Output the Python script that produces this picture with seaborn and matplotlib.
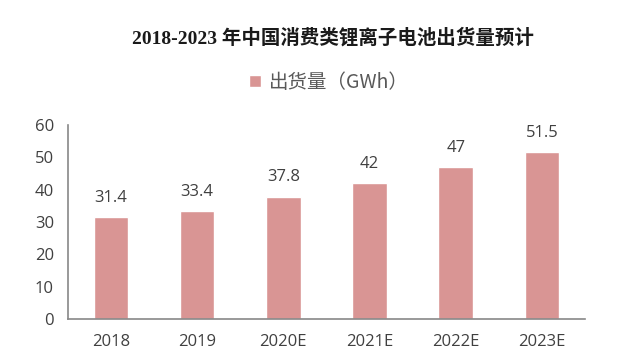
import numpy as np
import pandas as pd
import seaborn as sns
import matplotlib.pyplot as plt
from matplotlib.ticker import FixedLocator

years = ['2018', '2019', '2020E', '2021E', '2022E', '2023E']
shipments = [31.4, 33.4, 37.8, 42, 47, 51.5]
labels = ['31.4', '33.4', '37.8', '42', '47', '51.5']

sns.set_style('white')
plt.rcParams['font.family'] = ['Noto Sans CJK SC', 'DejaVu Sans']

bar_color = '#d99594'
text_color = '#404040'
axis_color = '#888888'

df = pd.DataFrame({'year': years, 'value': shipments})

fig = plt.figure(figsize=(6.23, 3.54), dpi=100)
ax = fig.add_axes([0.109, 0.099, 0.83, 0.548])

sns.barplot(data=df, x='year', y='value', color=bar_color, width=0.4,
            saturation=1, ax=ax)

for i, v in enumerate(shipments):
    ax.text(i, v + 3.5, labels[i], ha='center', va='bottom', fontsize=12,
            color=text_color, family=['Open Sans', 'DejaVu Sans'])

ax.set_ylim(0, 60)
ax.set_xlim(-0.5, 5.5)
ax.set_yticks(range(0, 61, 10))
ax.set_xlabel('')
ax.set_ylabel('')
for s in ['top', 'right']:
    ax.spines[s].set_visible(False)
for s in ['left', 'bottom']:
    ax.spines[s].set_color(axis_color)
    ax.spines[s].set_linewidth(1.2)

ax.tick_params(axis='y', which='major', length=5, width=1, color=axis_color,
               labelsize=12, labelcolor=text_color, pad=5)
ax.tick_params(axis='x', which='major', length=0, labelsize=12,
               labelcolor=text_color, pad=11)
ax.xaxis.set_minor_locator(FixedLocator(np.arange(-0.5, 6, 1)))
ax.tick_params(axis='x', which='minor', length=5, width=1, color=axis_color)
for lab in ax.get_xticklabels() + ax.get_yticklabels():
    lab.set_family(['Open Sans', 'DejaVu Sans'])

leg = fig.legend(handles=ax.patches[:1], labels=['出货量（GWh）'],
                 loc='center', bbox_to_anchor=(0.528, 0.768), frameon=False,
                 fontsize=14, handlelength=0.6, handleheight=0.6,
                 handletextpad=0.4)
for t in leg.get_texts():
    t.set_color('#595959')

fig.suptitle('2018-2023 年中国消费类锂离子电池出货量预计', x=0.535, y=0.92,
             fontsize=14, fontweight='bold', color='#1a1a1a',
             family=['Liberation Serif', 'Noto Sans CJK SC'])

fig.savefig('out.png', dpi=100)
